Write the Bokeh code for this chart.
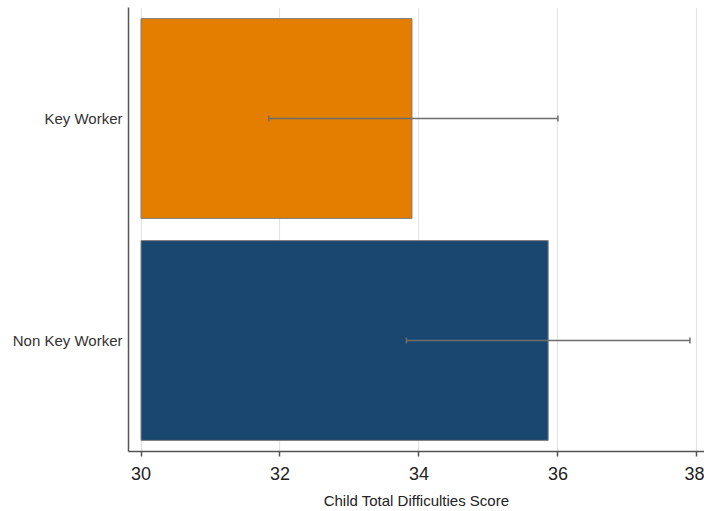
from bokeh.plotting import figure
from bokeh.models import FixedTicker, ColumnDataSource, Range1d, FactorRange
from bokeh.embed import file_html
from bokeh.resources import INLINE
import math

groups = ["Key Worker", "Non Key Worker"]
means = [33.9, 35.86]
ci_low = [31.84, 33.82]
ci_high = [36.0, 37.9]
base_value = 30
colors = ["#E37E00", "#1A476F"]
x_ticks = [30, 32, 34, 36, 38]

src = ColumnDataSource(dict(g=groups, m=means, lo=ci_low, hi=ci_high,
                            b=[base_value] * len(groups), c=colors))

p = figure(width=704, height=511, output_backend="svg", toolbar_location=None,
           y_range=FactorRange(factors=list(reversed(groups)), range_padding=0),
           x_range=Range1d(29.82, 38.11),
           min_border_left=128, min_border_right=0, min_border_top=7, min_border_bottom=58)
p.outline_line_color = None
p.background_fill_color = "white"

p.hbar(y="g", left="b", right="m", height=0.9, source=src, fill_color="c",
       line_color="#7f7f7f", line_width=1)
p.segment(x0="lo", x1="hi", y0="g", y1="g", source=src, line_color="#6e6e6e", line_width=1.5)
p.scatter(x="lo", y="g", source=src, marker="dash", angle=math.pi / 2, size=6,
          line_color="#6e6e6e", line_width=1.5)
p.scatter(x="hi", y="g", source=src, marker="dash", angle=math.pi / 2, size=6,
          line_color="#6e6e6e", line_width=1.5)

p.xaxis.ticker = FixedTicker(ticks=x_ticks)
p.xaxis.axis_label = "Child Total Difficulties Score"
p.xaxis.axis_label_text_font = "Liberation Sans"
p.xaxis.axis_label_text_font_style = "normal"
p.xaxis.axis_label_text_font_size = "15px"
p.xaxis.axis_label_text_color = "#222222"
p.xaxis.axis_label_standoff = 9
p.xaxis.major_label_text_font = "Liberation Sans"
p.xaxis.major_label_text_font_size = "18px"
p.xaxis.major_label_text_color = "#222222"
p.xaxis.major_label_standoff = 10
p.xaxis.major_tick_in = 0
p.xaxis.major_tick_out = 5
p.xaxis.minor_tick_line_color = None
p.xaxis.axis_line_color = "#555555"
p.xaxis.axis_line_width = 1.5
p.xaxis.major_tick_line_color = "#555555"
p.xaxis.major_tick_line_width = 1.5

p.yaxis.major_label_text_font = "Liberation Sans"
p.yaxis.major_label_text_font_size = "15px"
p.yaxis.major_label_text_color = "#333333"
p.yaxis.major_label_standoff = 0
p.yaxis.major_tick_line_color = None
p.yaxis.minor_tick_line_color = None
p.yaxis.axis_line_color = "#555555"
p.yaxis.axis_line_width = 1.5

p.xgrid.grid_line_color = "#e3e3e3"
p.xgrid.grid_line_width = 1.2
p.ygrid.grid_line_color = None

open("out.html", "w").write(file_html(p, INLINE))
